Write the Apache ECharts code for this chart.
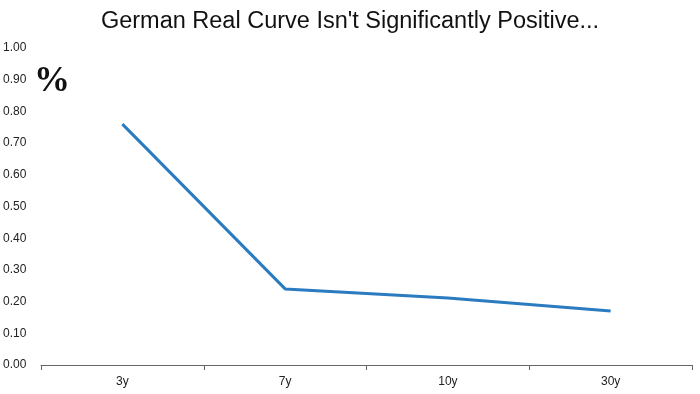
<!DOCTYPE html>
<html><head><meta charset="utf-8">
<script src="https://cdn.jsdelivr.net/npm/echarts@6/dist/echarts.min.js"></script>
<style>html,body{margin:0;padding:0;background:#fff}#c{width:700px;height:394px}</style>
</head><body><div id="c"></div>
<script>
const categories = ['3y', '7y', '10y', '30y'];
const realYield = [0.76, 0.24, 0.211, 0.17];
const yTicks = {min: 0, max: 1, interval: 0.1};

const chart = echarts.init(document.getElementById('c'), null, {renderer: 'canvas'});
chart.setOption({
  animation: false,
  backgroundColor: '#fff',
  title: {
    text: "German Real Curve Isn't Significantly Positive...",
    left: 'center', top: 5,
    textStyle: {fontFamily: 'Liberation Sans, Arial, sans-serif', fontSize: 23.5, fontWeight: 'normal', color: '#111'}
  },
  graphic: [{
    type: 'text', left: 34, top: 64,
    style: {text: '%', font: 'bold 36px "Liberation Serif", serif', fill: '#111'}
  }],
  grid: {left: 38, right: 8, top: 48, bottom: 29},
  xAxis: {
    type: 'category', data: categories, boundaryGap: true,
    axisLine: {lineStyle: {color: '#666', width: 1}},
    axisTick: {show: true, length: 5, lineStyle: {color: '#666'}},
    axisLabel: {color: '#222', fontSize: 12, fontFamily: 'Liberation Sans, Arial, sans-serif', margin: 11}
  },
  yAxis: {
    type: 'value', min: yTicks.min, max: yTicks.max, interval: yTicks.interval,
    splitLine: {show: false}, axisLine: {show: false}, axisTick: {show: false},
    axisLabel: {align: 'left', margin: 38, color: '#222', fontSize: 12, fontFamily: 'Liberation Sans, Arial, sans-serif',
      formatter: v => v.toFixed(2)}
  },
  series: [{
    type: 'line', data: realYield, symbol: 'none',
    lineStyle: {color: '#2A7BC0', width: 3}
  }]
});
</script></body></html>
